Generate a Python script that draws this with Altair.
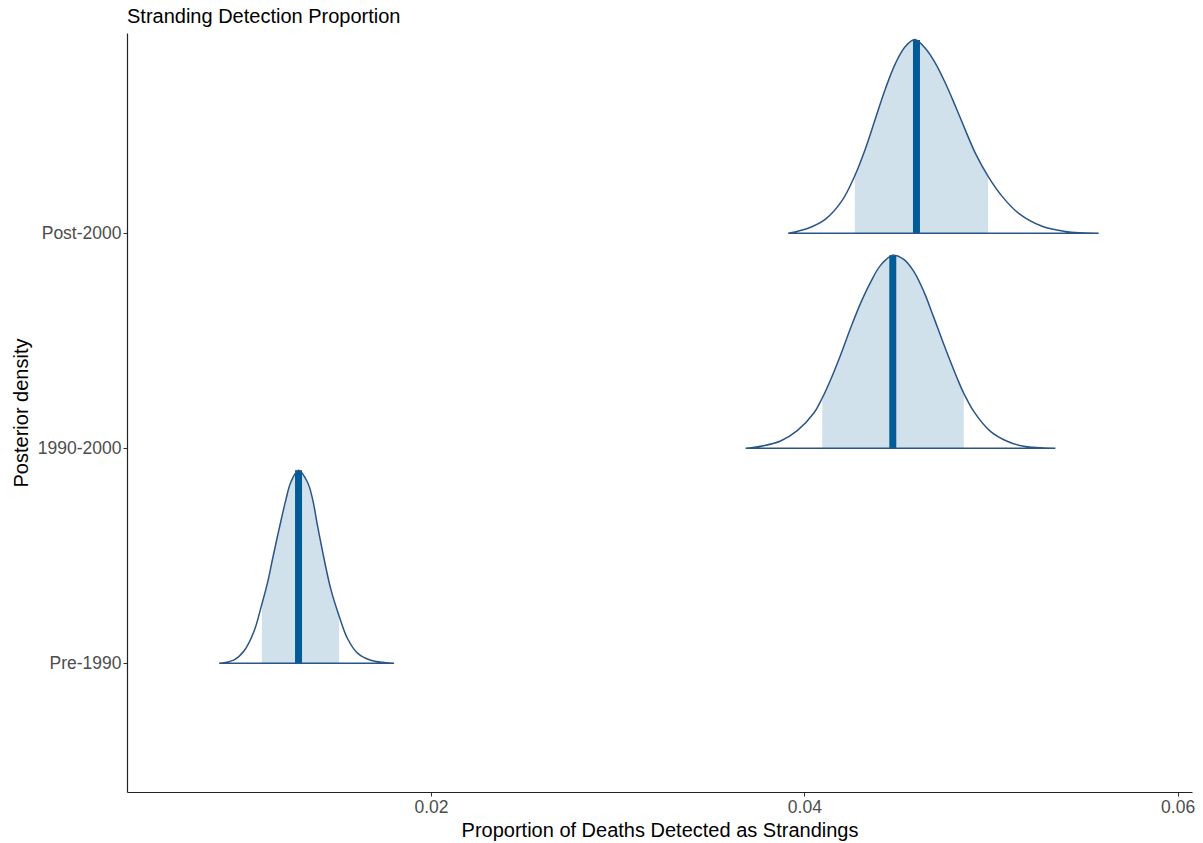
import altair as alt
import pandas as pd

groups = ["Pre-1990", "1990-2000", "Post-2000"]
baselines = [1, 2, 3]

# density curves (x = proportion, h = scaled density height in row units)
pre_x = [0.008648, 0.009451, 0.009987, 0.010522, 0.010935, 0.011240, 0.011508, 0.011861,
         0.012220, 0.012487, 0.012900, 0.013382, 0.013650, 0.013917, 0.014270, 0.014629,
         0.015074, 0.015523, 0.016059, 0.016771, 0.018019]
pre_h = [0, 0.016, 0.058, 0.150, 0.275, 0.375, 0.485, 0.625, 0.760, 0.842, 0.898, 0.842,
         0.765, 0.640, 0.485, 0.345, 0.220, 0.115, 0.047, 0.014, 0]

mid_x = [0.036852, 0.037815, 0.038726, 0.039620, 0.040509, 0.040959, 0.041403, 0.041938,
         0.042474, 0.043009, 0.043545, 0.044080, 0.044739, 0.045328, 0.045863, 0.046399,
         0.046934, 0.047470, 0.048187, 0.048541, 0.049076, 0.049971, 0.050865, 0.051754,
         0.053451]
mid_h = [0, 0.012, 0.034, 0.082, 0.164, 0.234, 0.318, 0.433, 0.558, 0.674, 0.772, 0.851,
         0.898, 0.879, 0.823, 0.730, 0.609, 0.484, 0.326, 0.256, 0.172, 0.079, 0.033, 0.009, 0]

post_x = [0.039138, 0.040241, 0.041135, 0.042029, 0.042704, 0.043277, 0.043813, 0.044348,
          0.044884, 0.045419, 0.045917, 0.046490, 0.047025, 0.047561, 0.048096, 0.048632,
          0.049167, 0.049847, 0.050597, 0.051486, 0.052739, 0.053987, 0.05577]
post_h = [0, 0.025, 0.066, 0.153, 0.268, 0.395, 0.535, 0.674, 0.791, 0.870, 0.902, 0.860,
          0.791, 0.698, 0.591, 0.479, 0.372, 0.265, 0.172, 0.093, 0.033, 0.009, 0]

# credible interval bounds and medians
inner_lo = [0.010935, 0.040959, 0.042704]
inner_hi = [0.015074, 0.048541, 0.049847]
medians = [0.012900, 0.044739, 0.046008]
median_h = [0.898, 0.898, 0.900]

rows = []
for g, b, xs, hs, lo, hi in zip(groups, baselines, [pre_x, mid_x, post_x],
                                [pre_h, mid_h, post_h], inner_lo, inner_hi):
    for xv, hv in zip(xs, hs):
        rows.append({"group": g, "base": b, "x": xv, "top": b + hv,
                     "inner": bool(lo - 1e-9 <= xv <= hi + 1e-9)})
df = pd.DataFrame(rows)
med_df = pd.DataFrame({"group": groups, "base": baselines, "x": medians,
                       "top": [b + h for b, h in zip(baselines, median_h)]})

xscale = alt.Scale(domain=[0.00371, 0.06077], nice=False, zero=False)
yscale = alt.Scale(domain=[0.401, 3.932], nice=False, zero=False)

label_expr = " : ".join(f"datum.value == {b} ? '{g}'" for g, b in zip(groups, baselines)) + " : ''"

x_axis = alt.Axis(values=[0.02, 0.04, 0.06], format=".2f", grid=False,
                  title="Proportion of Deaths Detected as Strandings",
                  titleBaseline="alphabetic", titleY=44, titleX=532.5, titleAlign="center")
y_axis = alt.Axis(values=baselines, labelExpr=label_expr, grid=False,
                  title="Posterior density", titleAngle=270, titleX=-99.4, titleY=379.5,
                  titleBaseline="alphabetic", titleAlign="center")

X = alt.X("x:Q", scale=xscale, axis=x_axis)
Y = alt.Y("top:Q", scale=yscale, axis=y_axis)

inner = alt.Chart(df).transform_filter("datum.inner").mark_area(
    color="#d1e1ec", interpolate="catmull-rom"
).encode(x=X, y=Y, y2="base:Q", detail="group:N")

outline = alt.Chart(df).mark_area(
    fillOpacity=0, stroke="#2a5586", strokeWidth=1.5, interpolate="catmull-rom"
).encode(x=X, y=Y, y2="base:Q", detail="group:N")

med = alt.Chart(med_df).mark_rule(color="#005b96", strokeWidth=7).encode(
    x=X, y=Y, y2="base:Q"
)

chart = alt.layer(inner, med, outline).properties(
    width=1065,
    height=759,
    autosize=alt.AutoSizeParams(type="none"),
    padding={"left": 127, "top": 33, "right": 11, "bottom": 51},
    title=alt.TitleParams("Stranding Detection Proportion", anchor="start", frame="group",
                          fontSize=20, fontWeight="normal", font="Liberation Sans",
                          color="black", offset=6),
).configure_view(stroke=None).configure_axis(
    domainColor="#222222", domainWidth=1.2, tickColor="#333333", tickSize=4,
    labelFont="Liberation Sans", labelFontSize=17.5, labelColor="#4d4d4d", labelPadding=2,
    titleFont="Liberation Sans", titleFontSize=20, titleFontWeight="normal", titleColor="black",
)

chart.save("out.html", embed_options={"renderer": "svg", "actions": False})
